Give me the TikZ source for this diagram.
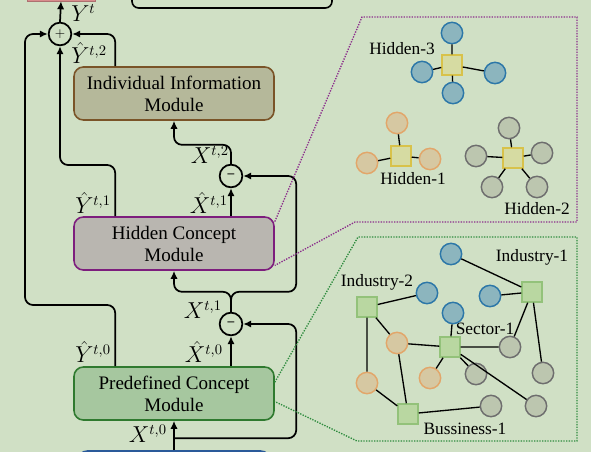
\documentclass[tikz,border=0pt]{standalone}
\usepackage{fontspec}
\setmainfont{Liberation Serif}
\usetikzlibrary{arrows,arrows.meta,positioning,calc}
\definecolor{bg}{HTML}{D0E0C5}
\definecolor{indfill}{HTML}{B5B89A}
\definecolor{indline}{HTML}{7A5428}
\definecolor{hidfill}{HTML}{B9B6B0}
\definecolor{hidline}{HTML}{7D1E7D}
\definecolor{prefill}{HTML}{A6C79F}
\definecolor{preline}{HTML}{2F7A2F}
\definecolor{inline}{HTML}{2A5A9A}
\definecolor{outfill}{HTML}{D88C8C}
\definecolor{bfill}{HTML}{8CB5BE}
\definecolor{bline}{HTML}{2C77A8}
\definecolor{ofill}{HTML}{D6C8A2}
\definecolor{oline}{HTML}{E2A66A}
\definecolor{gfill}{HTML}{BCC6AF}
\definecolor{gline}{HTML}{6E6E6E}
\definecolor{yfill}{HTML}{D6DBA2}
\definecolor{yline}{HTML}{D8C24A}
\definecolor{sqfill}{HTML}{B9D7A1}
\definecolor{sqline}{HTML}{93C27A}
\definecolor{hidzone}{HTML}{8B2D8B}
\definecolor{prezone}{HTML}{2E8B3E}

\begin{document}
\begin{tikzpicture}[x=0.75pt,y=-0.75pt,>={Latex[length=6pt,width=5.5pt]},
    module/.style={draw,rounded corners=7pt,line width=1.2pt,minimum width=150pt,minimum height=39.75pt,align=center,font=\fontsize{14.3}{16.5}\selectfont},
    op/.style={draw,circle,line width=1.3pt,minimum size=17pt,inner sep=0pt},
    flow/.style={->,line width=1.3pt,rounded corners=6pt},
    lbl/.style={font=\fontsize{16}{18}\selectfont,inner sep=0pt},
    tag/.style={font=\fontsize{13}{15}\selectfont,inner sep=0pt},
    edge/.style={line width=1pt},
    zone/.style={line width=1pt,dash pattern=on 1pt off 1pt},
    bnode/.style={circle,draw=bline,fill=bfill,line width=1.1pt,minimum size=16pt,inner sep=0pt},
    onode/.style={circle,draw=oline,fill=ofill,line width=1.1pt,minimum size=16pt,inner sep=0pt},
    gnode/.style={circle,draw=gline,fill=gfill,line width=1.1pt,minimum size=16pt,inner sep=0pt},
    ysq/.style={draw=yline,fill=yfill,line width=1.1pt,minimum size=15pt,inner sep=0pt},
    gsq/.style={draw=sqline,fill=sqfill,line width=1.1pt,minimum size=15pt,inner sep=0pt}]
    \fill[bg] (0,0) rectangle (591,452);
    \useasboundingbox (0,0) rectangle (591,452);

    % modules
    \node[module,fill=indfill,draw=indline] (ind) at (174,93.5) {Individual Information\\Module};
    \node[module,fill=hidfill,draw=hidline] (hid) at (174,243.5) {Hidden Concept\\Module};
    \node[module,fill=prefill,draw=preline] (pre) at (174,393.5) {Predefined Concept\\Module};
    \node[draw=inline,fill=bfill,rounded corners=7pt,line width=1.2pt,minimum width=144pt,minimum height=30pt] (inp) at (174,471) {};
    \node[draw=outfill!80!black,fill=outfill,minimum width=51pt,minimum height=21pt] (out) at (61,-13) {};
    \node[draw,rounded corners=5pt,line width=1.2pt,minimum width=150pt,minimum height=30pt] (top) at (232,-12) {};

    % operators
    \node[op] (plus) at (60,34) {$+$};
    \node[op] (sub1) at (231,176) {\textbf{--}};
    \node[op] (sub2) at (231,324) {\textbf{--}};

    % residual flow
    \draw[flow] (plus.north) -- (out.south);
    \draw[flow] (inp.north) -- (pre.south);
    \draw[flow] ([yshift=9pt]inp.north) -| ($(sub2.east)+(53,0)$) -- (sub2.east);
    \draw[flow] (pre.north -| sub2) -- (sub2.south);
    \draw[flow] (sub2.north) -- ++(0,-20) -| (hid.south);
    \draw[flow] (sub2.north) -- ++(0,-20) -| ($(sub1.east)+(53,0)$) -- (sub1.east);
    \draw[flow] (hid.north -| sub1) -- (sub1.south);
    \draw[flow] (sub1.north) -- ++(0,-19) -| (ind.south);
    \draw[flow] ([xshift=31.5pt]pre.north west) |- (25,305) |- (plus.west);
    \draw[flow] ([xshift=31.5pt]hid.north west) |- (60,165) -- (plus.south);
    \draw[flow] ([xshift=31.5pt]ind.north west) |- (plus.east);

    % labels
    \node[lbl,anchor=west] (ly) at (71,13) {$Y^{t}$};
    \node[lbl,anchor=east] (ly2) at (107,53) {$\hat{Y}^{t,2}$};
    \node[lbl,anchor=east] (lx2) at (229,155) {$X^{t,2}$};
    \node[lbl,anchor=east] (lxh1) at (228,203) {$\hat{X}^{t,1}$};
    \node[lbl,anchor=east] (ly1) at (111,203) {$\hat{Y}^{t,1}$};
    \node[lbl,anchor=east] (lx1) at (222,310) {$X^{t,1}$};
    \node[lbl,anchor=east] (lxh0) at (223,352) {$\hat{X}^{t,0}$};
    \node[lbl,anchor=east] (ly0) at (111,352) {$\hat{Y}^{t,0}$};
    \node[lbl,anchor=east] (lx0) at (167,434) {$X^{t,0}$};

    % zoom-in zones
    \draw[zone,hidzone] ([yshift=-4pt]hid.north east) -- (362,17) -- (577,17) -- (577,222) -- (355,222) -- ([yshift=4pt]hid.south east);
    \draw[zone,prezone] ([yshift=-12pt]pre.north east) -- (358,237) -- (577,237) -- (577,441) -- (357,441) -- ([yshift=-6pt]pre.east);

    % hidden concepts
    \node[ysq] (h3) at (452,65) {};
    \node[bnode] (h3a) at (452,33) {};
    \node[bnode] (h3b) at (422,72) {};
    \node[bnode] (h3c) at (495,73) {};
    \node[bnode] (h3d) at (453,93) {};
    \node[tag] (t3) at (402,49) {Hidden-3};
    \draw[edge] (h3) -- (h3a) (h3) -- (h3b) (h3) -- (h3c) (h3) -- (h3d);

    \node[ysq] (h1) at (401,156) {};
    \node[onode] (h1a) at (397,123) {};
    \node[onode] (h1b) at (367,163) {};
    \node[onode] (h1c) at (430,159) {};
    \node[tag] (t1) at (413,179) {Hidden-1};
    \draw[edge] (h1) -- (h1a) (h1) -- (h1b) (h1) -- (h1c);

    \node[ysq] (h2) at (513,158) {};
    \node[gnode] (h2a) at (509,128) {};
    \node[gnode] (h2b) at (476,156) {};
    \node[gnode] (h2c) at (542,153) {};
    \node[gnode] (h2d) at (492,187) {};
    \node[gnode] (h2e) at (537,187) {};
    \node[tag] (t2) at (537,209) {Hidden-2};
    \draw[edge] (h2) -- (h2a) (h2) -- (h2b) (h2) -- (h2c) (h2) -- (h2d) (h2) -- (h2e);

    % predefined concepts
    \node[gsq] (ind2) at (367,307) {};
    \node[gsq] (ind1) at (532,292) {};
    \node[gsq] (sec1) at (450,347) {};
    \node[gsq] (bus1) at (408,414) {};
    \node[tag] (tind2) at (377,282) {Industry-2};
    \node[tag] (tind1) at (532,257) {Industry-1};
    \node[tag] (tsec1) at (485,329) {Sector-1};
    \node[tag] (tbus1) at (465,429) {Bussiness-1};
    \node[bnode] (b1) at (451,254) {};
    \node[bnode] (b2) at (427,293) {};
    \node[bnode] (b3) at (490,296) {};
    \node[bnode] (b4) at (453,313) {};
    \node[onode] (o1) at (397,343) {};
    \node[onode] (o2) at (367,383) {};
    \node[onode] (o3) at (430,378) {};
    \node[gnode] (g1) at (510,347) {};
    \node[gnode] (g2) at (476,374) {};
    \node[gnode] (g3) at (543,373) {};
    \node[gnode] (g4) at (536,406) {};
    \node[gnode] (g5) at (491,406) {};
    \draw[edge] (b1) -- (ind1) (b3) -- (ind1) (ind1) -- (g1) (ind1) -- (g3)
        (ind2) -- (b2) (ind2) -- (o1) (ind2) -- (o2)
        (o1) -- (sec1) (o1) -- (bus1) (o2) -- (bus1)
        (b4) -- (sec1) (sec1) -- (o3) (sec1) -- (g1) (sec1) -- (g2) (sec1) -- (g4)
        (bus1) -- (g5);
\end{tikzpicture}
\end{document}
